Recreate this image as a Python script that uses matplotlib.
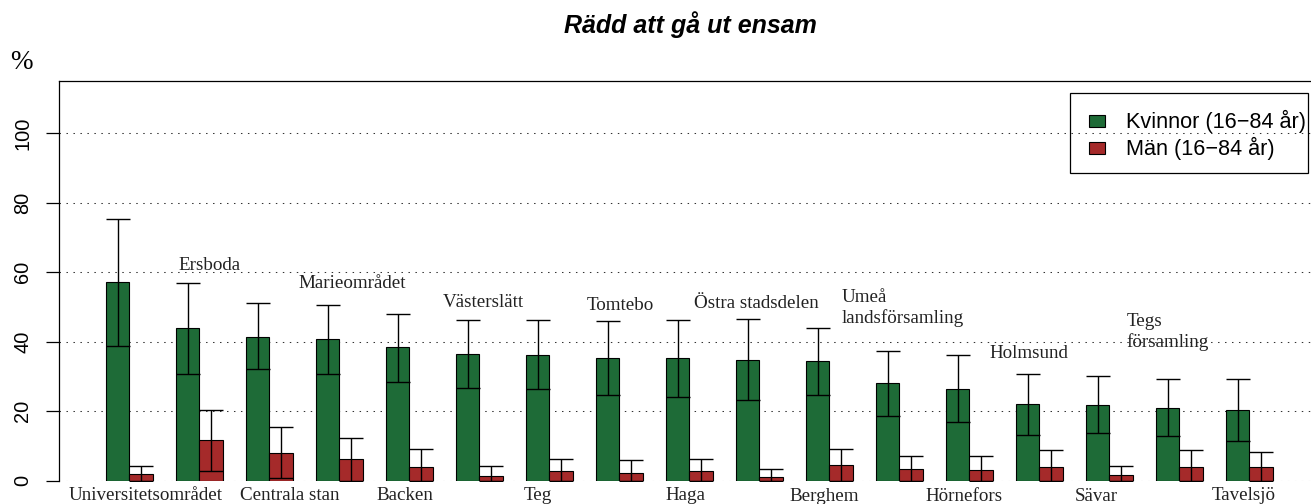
import numpy as np
import matplotlib
matplotlib.use('Agg')
import matplotlib.pyplot as plt
from matplotlib.patches import Rectangle

# areas in the order they appear on the chart
areas = ['Universitetsområdet', 'Ersboda', 'Centrala stan', 'Marieområdet', 'Backen',
         'Västerslätt', 'Teg', 'Tomtebo', 'Haga', 'Östra stadsdelen', 'Berghem',
         'Umeå\nlandsförsamling', 'Hörnefors', 'Holmsund', 'Sävar',
         'Tegs\nförsamling', 'Tavelsjö']

women = [57.1, 43.9, 41.4, 40.8, 38.4, 36.5, 36.3, 35.3, 35.3, 34.8, 34.3, 28.0, 26.5, 22.1, 21.9, 21.0, 20.3]
women_lo = [38.7, 30.7, 32.0, 30.8, 28.5, 26.6, 26.3, 24.7, 24.2, 23.2, 24.8, 18.6, 16.9, 13.2, 13.6, 12.9, 11.5]
women_hi = [75.3, 57.0, 51.0, 50.5, 48.1, 46.2, 46.2, 45.9, 46.2, 46.5, 44.0, 37.4, 36.1, 30.8, 30.2, 29.3, 29.3]

men = [1.9, 11.6, 8.1, 6.2, 4.0, 1.3, 2.7, 2.3, 2.7, 1.1, 4.5, 3.3, 3.1, 3.8, 1.5, 4.0, 3.9]
men_lo = [0, 2.8, 0.7, 0, 0, 0, 0, 0, 0, 0, 0, 0, 0, 0, 0, 0, 0]
men_hi = [4.2, 20.4, 15.4, 12.4, 9.1, 4.2, 6.2, 6.0, 6.2, 3.5, 9.2, 7.2, 7.1, 8.7, 4.3, 8.8, 8.3]

yticks = [0, 20, 40, 60, 80, 100]
title = 'Rädd att gå ut ensam'
legend_labels = ['Kvinnor (16−84 år)', 'Män (16−84 år)']

# label placement (layout only)
below_dx = [0.72, 0.88, -0.19, -0.49, -0.18, -0.21, -0.24, -0.55, -0.22]
below_y = [-5.6, -5.6, -5.6, -5.6, -5.6, -5.7, -5.7, -5.7, -5.6]
above_dx = [0.46, 0.54, 0.18, 0.03, -0.14, 0.13, -0.46, -0.48]
above_y = [60.6, 55.5, 50.0, 49.1, 49.7, 45.4, 35.4, 38.6]

GREEN = '#1e6b37'
RED = '#a52a2a'
W, H = 1311, 504

fig = plt.figure(figsize=(W / 100, H / 100), dpi=100)
ax = fig.add_axes([59.3 / W, 1 - 480.7 / H, 1 - 59.3 / W, 400 / H])

women = np.array(women)
men = np.array(men)
n = len(areas)
xg = np.arange(n) * 3 + 1.5
xr = xg + 1

for y in yticks:
    ax.axhline(y, color='#333333', lw=0.75, ls=(0, (1.4, 5.3)), zorder=0.5)

ax.bar(xg, women, width=1, color=GREEN, edgecolor='black', lw=0.8, zorder=2)
ax.bar(xr, men, width=1, color=RED, edgecolor='black', lw=0.8, zorder=2)
ax.errorbar(xg, women, yerr=[women - np.array(women_lo), np.array(women_hi) - women],
            fmt='none', ecolor='black', elinewidth=1, capsize=8.5, capthick=1, zorder=3)
ax.errorbar(xr, men, yerr=[men - np.array(men_lo), np.array(men_hi) - men],
            fmt='none', ecolor='black', elinewidth=1, capsize=8.5, capthick=1, zorder=3)

ax.set_xlim(-1.0, 52.65)
ax.set_ylim(0, 115.1)
ax.set_xticks([])
ax.set_yticks(yticks)
ax.set_yticklabels([str(t) for t in yticks], rotation=90, va='center',
                   family='Liberation Sans', fontsize=14.4)
ax.tick_params(axis='y', length=9.4, width=0.9, pad=10)
ax.spines['right'].set_visible(False)
ax.spines['bottom'].set_visible(False)
for s in ('left', 'top'):
    ax.spines[s].set_linewidth(0.9)

centers = np.arange(n) * 3 + 2
serif = dict(family='Liberation Serif', fontsize=13.7, color='#222222')
for k, i in enumerate(range(0, n, 2)):
    ax.text(centers[i] + below_dx[k], below_y[k], areas[i], ha='center', va='baseline',
            clip_on=False, **serif)
for k, i in enumerate(range(1, n, 2)):
    ax.text(centers[i] + above_dx[k], above_y[k], areas[i], ha='center', va='baseline',
            multialignment='left', linespacing=1.2, **serif)

fig.text(690.5 / W, 1 - 33.3 / H, title, ha='center', va='baseline',
         family='Liberation Sans', fontsize=18, weight='bold', style='italic')
fig.text(10 / W, 1 - 69.3 / H, '%', ha='left', va='baseline',
         family='Liberation Serif', fontsize=19.5)

# legend box
fig.add_artist(Rectangle((1070 / W, 1 - 172.7 / H), 237.7 / W, 79.4 / H,
                         transform=fig.transFigure, fill=False, edgecolor='black', lw=0.9))
for yc, col, lab in zip([121, 148], [GREEN, RED], legend_labels):
    fig.add_artist(Rectangle((1089 / W, 1 - (yc + 6) / H), 16 / W, 12 / H,
                             transform=fig.transFigure, facecolor=col, edgecolor='black', lw=0.8))
    fig.text(1126 / W, 1 - yc / H, lab, ha='left', va='center',
             family='Liberation Sans', fontsize=15.6)

fig.savefig('out.png', dpi=100)
